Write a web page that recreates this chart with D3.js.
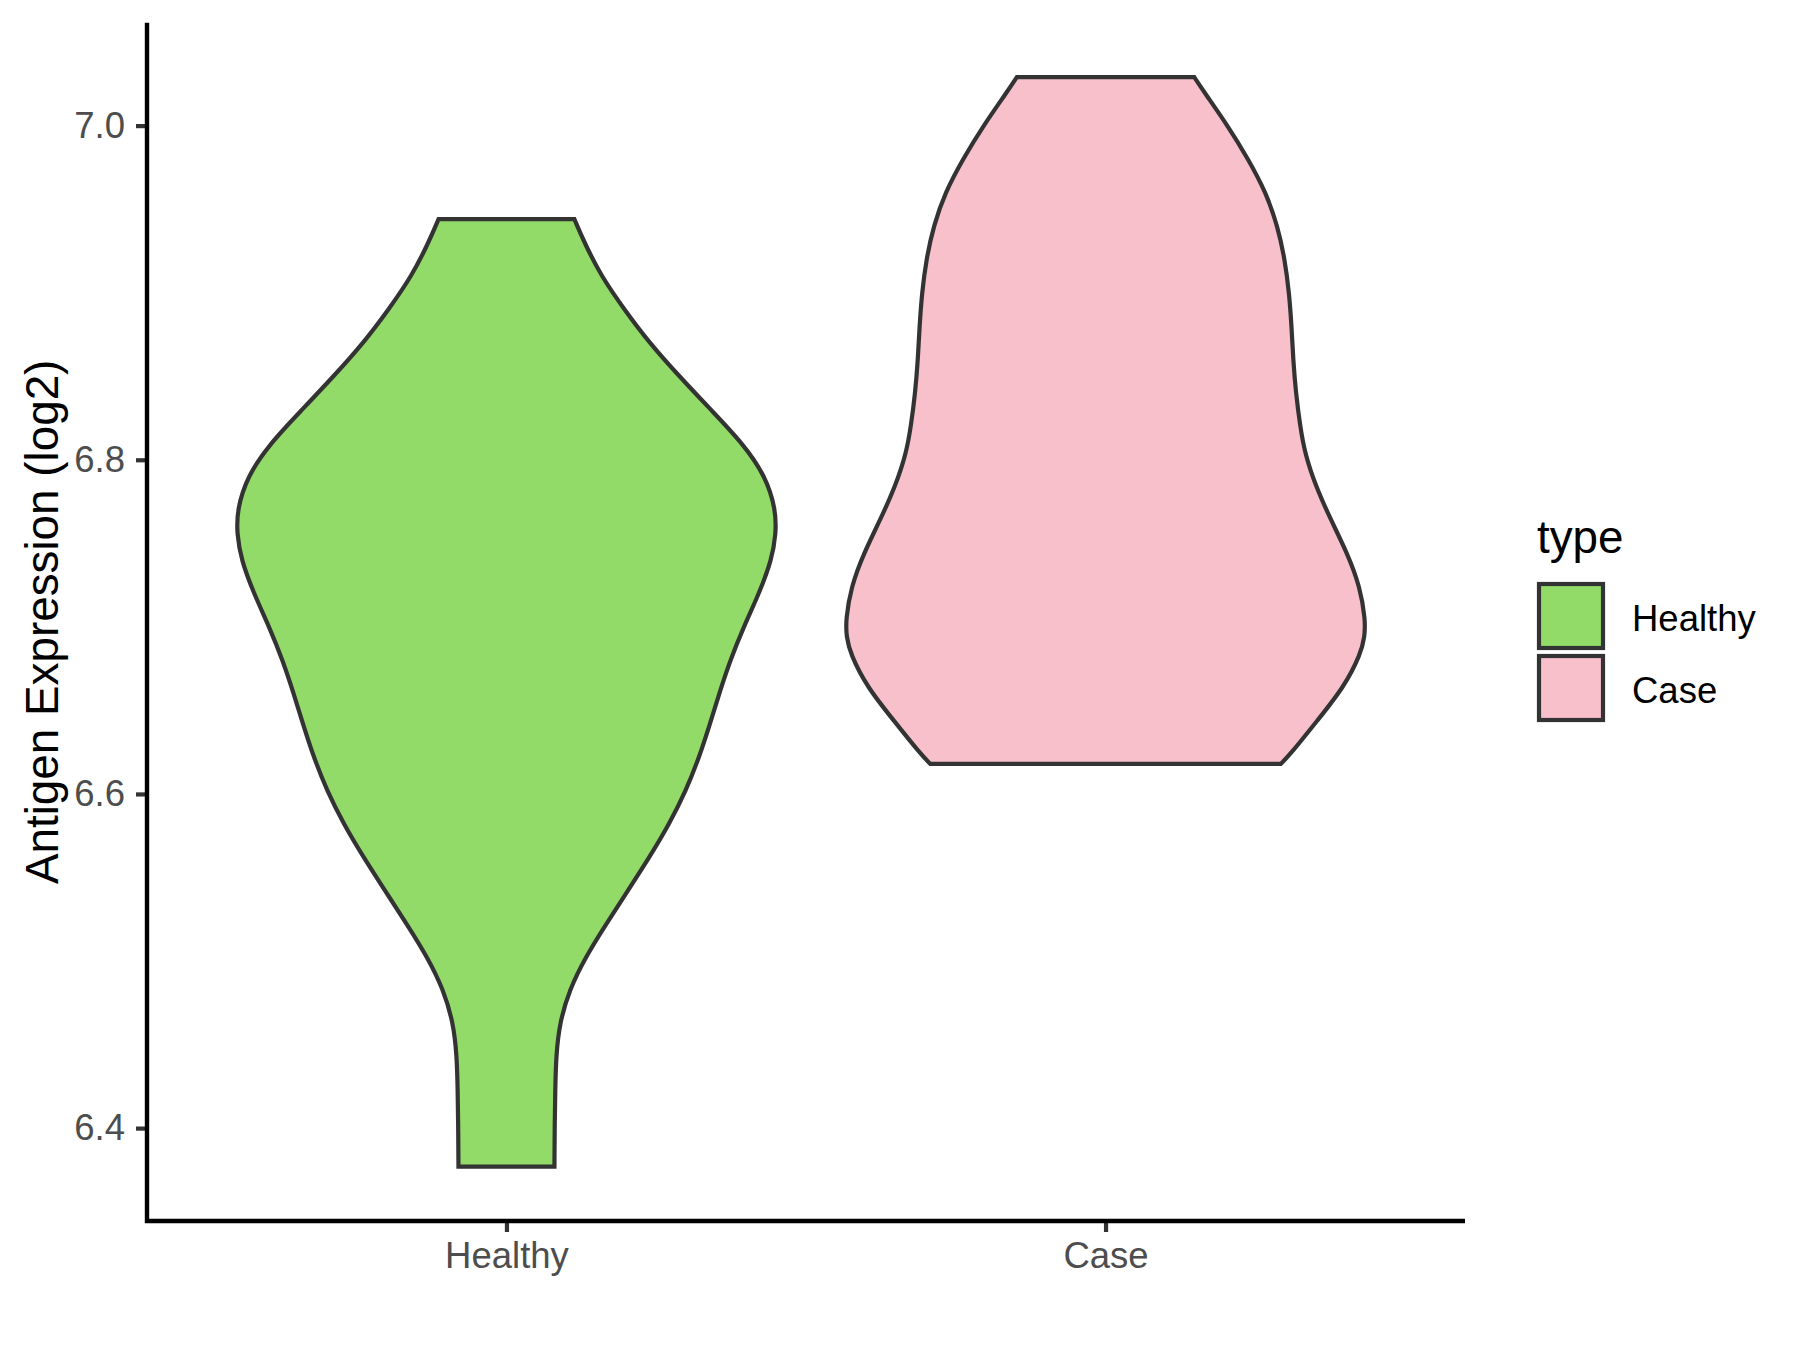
<!DOCTYPE html>
<html>
<head>
<meta charset="utf-8">
<script src="https://cdn.jsdelivr.net/npm/d3@7"></script>
<style>
  body { margin: 0; background: #fff; }
  text { font-family: 'Liberation Sans', Arial, sans-serif; }
</style>
</head>
<body>
<div id="chart"></div>
<script>
  const categories = ['Healthy', 'Case'];
  const fillColors = ['#93DB69', '#F7C0CB'];
  const yTicks = [6.4, 6.6, 6.8, 7.0];

  // violin outlines: value, relative half-width (1 = widest)
  const healthyValues = [6.944, 6.930, 6.910, 6.890, 6.870, 6.850, 6.830, 6.810, 6.790, 6.770, 6.756, 6.740, 6.720, 6.700, 6.680,
    6.662, 6.642, 6.622, 6.602, 6.582, 6.562, 6.542, 6.522, 6.502, 6.483, 6.463, 6.443, 6.423, 6.403, 6.377];
  const healthyWidths = [0.252, 0.289, 0.351, 0.437, 0.530, 0.641, 0.758, 0.876, 0.962, 0.999, 1.000, 0.984, 0.937, 0.880, 0.830,
    0.793, 0.755, 0.715, 0.666, 0.604, 0.530, 0.450, 0.369, 0.292, 0.234, 0.197, 0.184, 0.181, 0.179, 0.178];

  const caseValues = [7.029, 7.020, 7.000, 6.980, 6.960, 6.940, 6.920, 6.900, 6.880, 6.860, 6.840, 6.820, 6.804, 6.784, 6.764,
    6.744, 6.724, 6.704, 6.694, 6.684, 6.664, 6.644, 6.624, 6.618];
  const caseWidths = [0.329, 0.366, 0.453, 0.529, 0.595, 0.638, 0.665, 0.681, 0.690, 0.696, 0.706, 0.722, 0.739, 0.780, 0.836,
    0.897, 0.944, 0.964, 0.961, 0.947, 0.885, 0.786, 0.687, 0.650];

  const violins = [
    { name: categories[0], fill: fillColors[0], values: healthyValues, widths: healthyWidths },
    { name: categories[1], fill: fillColors[1], values: caseValues, widths: caseWidths }
  ];

  const W = 1800, H = 1350;
  const panel = { left: 147, right: 1465, top: 22.7, bottom: 1221 };
  const ink = '#333333';

  const svg = d3.select('#chart').append('svg')
    .attr('width', W).attr('height', H)
    .style('background', '#fff');

  const allValues = healthyValues.concat(caseValues);
  const [vMin, vMax] = d3.extent(allValues);
  const pad = (vMax - vMin) * 0.05;

  const y = d3.scaleLinear().domain([vMin - pad, vMax + pad]).range([panel.bottom, panel.top]);
  const x = d3.scalePoint().domain(categories).range([panel.left, panel.right]).padding(0.6);
  const halfWidth = d3.scaleLinear().domain([0, 1]).range([0, x.step() * 0.45]);

  // violins
  const violinPath = function (d) {
    const pts = d.values.map((v, i) => ({ v: v, w: d.widths[i] }));
    const cx = x(d.name);
    const left = d3.line().curve(d3.curveBasis)
      .x(p => cx - halfWidth(p.w)).y(p => y(p.v));
    const right = d3.line().curve(d3.curveBasis)
      .x(p => cx + halfWidth(p.w)).y(p => y(p.v));
    return left(pts) + 'L' + right(pts.slice().reverse()).slice(1) + 'Z';
  };

  svg.append('g').attr('class', 'violins')
    .selectAll('.violin')
    .data(violins)
    .enter().append('path')
    .attr('class', 'violin')
    .attr('d', violinPath)
    .attr('fill', d => d.fill)
    .attr('stroke', ink)
    .attr('stroke-width', 4.2)
    .attr('stroke-linejoin', 'miter');

  // axes
  const yAxis = svg.append('g')
    .attr('transform', `translate(${panel.left},0)`)
    .call(d3.axisLeft(y).tickValues(yTicks).tickFormat(d3.format('.1f')).tickSize(11).tickPadding(11));
  yAxis.select('.domain').remove();

  const xAxis = svg.append('g')
    .attr('transform', `translate(0,${panel.bottom})`)
    .call(d3.axisBottom(x).tickSize(11).tickPadding(10));
  xAxis.select('.domain').remove();

  svg.selectAll('.tick line').attr('stroke', ink).attr('stroke-width', 4.2);
  svg.selectAll('.tick text')
    .attr('fill', '#4D4D4D')
    .style('font-size', '36.5px')
    .style('font-family', "'Liberation Sans', Arial, sans-serif");

  svg.append('path')
    .attr('d', `M${panel.left},${panel.top}V${panel.bottom}H${panel.right}`)
    .attr('fill', 'none')
    .attr('stroke', '#000')
    .attr('stroke-width', 4.4)
    .attr('stroke-linecap', 'butt');

  svg.append('text')
    .attr('transform', `translate(58,${(panel.top + panel.bottom) / 2}) rotate(-90)`)
    .attr('text-anchor', 'middle')
    .style('font-size', '45.8px')
    .attr('fill', '#000')
    .text('Antigen Expression (log2)');

  // legend
  const legend = svg.append('g').attr('class', 'legend')
    .attr('transform', 'translate(1537, 0)');

  legend.append('text')
    .attr('x', 0).attr('y', 553)
    .style('font-size', '45.8px')
    .attr('fill', '#000')
    .text('type');

  const keys = legend.selectAll('.key')
    .data(violins)
    .enter().append('g')
    .attr('class', 'key')
    .attr('transform', (d, i) => `translate(0, ${582 + i * 72})`);

  keys.append('rect')
    .attr('x', 2).attr('y', 2)
    .attr('width', 64).attr('height', 64)
    .attr('fill', d => d.fill)
    .attr('stroke', ink)
    .attr('stroke-width', 4.2);

  keys.append('text')
    .attr('x', 95).attr('y', 49)
    .style('font-size', '36.5px')
    .attr('fill', '#000')
    .text(d => d.name);
</script>
</body>
</html>
